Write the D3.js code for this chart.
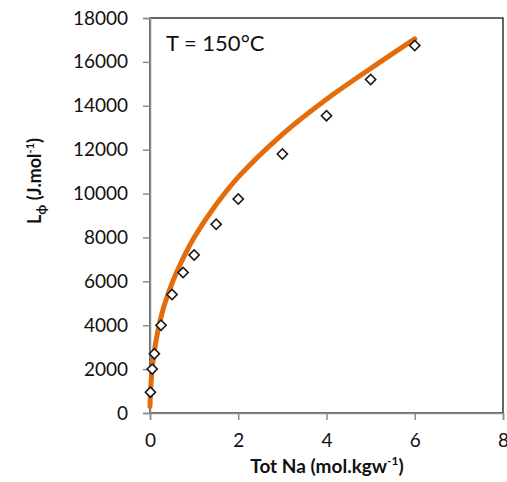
<!DOCTYPE html>
<html>
<head>
<meta charset="utf-8">
<script src="https://cdn.jsdelivr.net/npm/d3@7"></script>
<style>body{margin:0;background:#fff;}</style>
</head>
<body>
<script>
// measured points (diamonds)
var naMeas = [0.01, 0.05, 0.1, 0.25, 0.5, 0.75, 1, 1.5, 2, 3, 4, 5, 6];
var lphiMeas = [950, 2000, 2700, 4000, 5400, 6400, 7200, 8600, 9750, 11800, 13550, 15200, 16750];
// model curve (orange)
var naModel = [0, 0.01, 0.04, 0.09, 0.17, 0.3, 0.45, 0.6, 0.8, 1, 1.5, 2, 3, 4, 5, 6];
var lphiModel = [300, 900, 1800, 2700, 3650, 4750, 5650, 6400, 7250, 8000, 9500, 10750, 12700, 14300, 15700, 17050];
// ticks
var xTicks = [0, 2, 4, 6, 8];
var yTicks = [0, 2000, 4000, 6000, 8000, 10000, 12000, 14000, 16000, 18000];

var w = 507, h = 482;
var pLeft = 150, pRight = 503, pTop = 18, pBottom = 413;
var font = "Lato, 'Open Sans', sans-serif";

var svg = d3.select("body").append("svg")
    .attr("width", w)
    .attr("height", h);

var x = d3.scaleLinear().domain([0, 8]).range([pLeft, pRight]);
var y = d3.scaleLinear().domain([0, 18000]).range([pBottom, pTop]);

// plot frame
svg.append("rect")
    .attr("x", pLeft)
    .attr("y", pTop)
    .attr("width", pRight - pLeft)
    .attr("height", pBottom - pTop)
    .attr("fill", "none")
    .attr("stroke", "#000")
    .attr("stroke-width", 1.2);

// axes
var xAxis = svg.append("g")
    .attr("transform", "translate(0," + pBottom + ")")
    .call(d3.axisBottom(x).tickValues(xTicks).tickSize(7).tickPadding(14).tickFormat(d3.format("d")));
var yAxis = svg.append("g")
    .attr("transform", "translate(" + pLeft + ",0)")
    .call(d3.axisLeft(y).tickValues(yTicks).tickSize(7).tickPadding(15).tickFormat(d3.format("d")));

[xAxis, yAxis].forEach(function (g) {
    g.select(".domain").attr("stroke", "#8c8c8c").attr("stroke-width", 1.5);
    g.selectAll(".tick line").attr("stroke", "#8c8c8c").attr("stroke-width", 1.5);
    g.selectAll(".tick text")
        .attr("fill", "#111")
        .style("font-family", font)
        .style("font-size", "19px");
});

// model curve
var line = d3.line()
    .x(function (d) { return x(d[0]); })
    .y(function (d) { return y(d[1]); })
    .curve(d3.curveCatmullRom.alpha(0.5));

svg.append("path")
    .datum(d3.zip(naModel, lphiModel))
    .attr("d", line)
    .attr("fill", "none")
    .attr("stroke", "#e46c0a")
    .attr("stroke-width", 5)
    .attr("stroke-linecap", "round");

// measured diamonds
var diamond = d3.symbol().type(d3.symbolSquare).size(52);
svg.selectAll(".pt")
    .data(d3.zip(naMeas, lphiMeas))
    .enter().append("path")
    .attr("class", "pt")
    .attr("d", diamond)
    .attr("transform", function (d) {
        return "translate(" + x(d[0]) + "," + y(d[1]) + ") rotate(45)";
    })
    .attr("fill", "#fff")
    .attr("stroke", "#1a1a1a")
    .attr("stroke-width", 1.6);

// annotation
svg.append("text")
    .attr("x", 166)
    .attr("y", 51)
    .style("font-family", font)
    .style("font-size", "22px")
    .attr("fill", "#111")
    .text("T = 150°C");

// x label
var xl = svg.append("text")
    .attr("x", 327)
    .attr("y", 473)
    .attr("text-anchor", "middle")
    .style("font-family", font)
    .style("font-size", "19px")
    .style("font-weight", "bold")
    .attr("fill", "#111");
xl.append("tspan").text("Tot Na (mol.kgw");
xl.append("tspan").attr("dy", -8).style("font-size", "12px").text("-1");
xl.append("tspan").attr("dy", 8).text(")");

// y label
var yl = svg.append("text")
    .attr("transform", "translate(41,181) rotate(-90)")
    .attr("text-anchor", "middle")
    .style("font-family", font)
    .style("font-size", "18px")
    .style("font-weight", "bold")
    .attr("fill", "#111");
yl.append("tspan").text("L");
yl.append("tspan").attr("dy", 5).style("font-size", "13px").text("ϕ");
yl.append("tspan").attr("dy", -5).text(" (J.mol");
yl.append("tspan").attr("dy", -7).style("font-size", "11px").text("-1");
yl.append("tspan").attr("dy", 7).text(")");
</script>
</body>
</html>
